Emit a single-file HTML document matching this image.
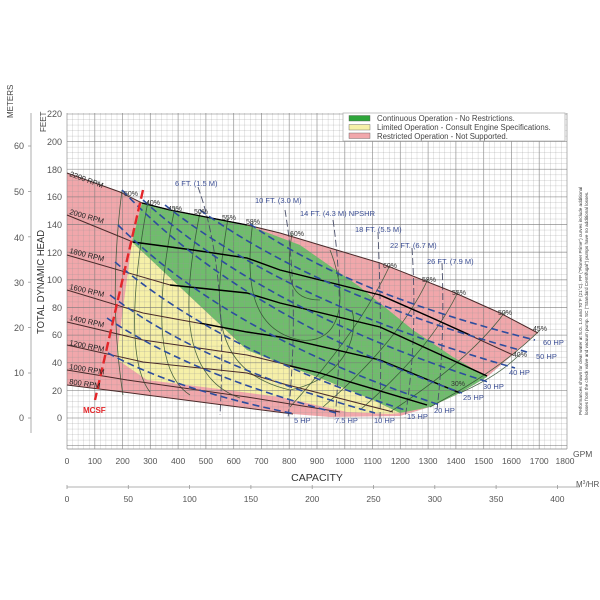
<!DOCTYPE html>
<html><head><meta charset="utf-8"><style>
html,body{margin:0;padding:0;background:#fff;}
svg{display:block;font-family:"Liberation Sans",sans-serif;}
</style></head><body>
<svg width="600" height="600" viewBox="0 0 600 600" xmlns="http://www.w3.org/2000/svg">
<rect width="600" height="600" fill="#fff"/>
<path d="M67,173 L120,192 L142,203 L170,210 L247,225 L280,233 L330,248 L380,263 L453,292 L500,313 L538,333 L487,377 L460,393 L430,407 L400,416 L330,417 L293,414 L123,392 L67,385 Z" fill="#f1a7ab"/>
<path d="M132,242 L247,350 L280,363 L320,378 L373,400 L400,413 L390,414 L347,412 L280,397 L227,390 L147,380 L118,360 L117,353 Z" fill="#f6f0a8"/>
<path d="M142,203 L170,210 L247,225 L300,245 L360,287 L413,330 L453,357 L487,377 L460,393 L430,407 L400,413 L373,400 L320,378 L280,363 L247,350 L132,242 Z" fill="#6fbd6c"/>
<g id="grid"></g>
<script>
(function(){
var ns="http://www.w3.org/2000/svg",g=document.getElementById('grid');
function ln(x1,y1,x2,y2,c,w){var l=document.createElementNS(ns,'line');l.setAttribute('x1',x1);l.setAttribute('y1',y1);l.setAttribute('x2',x2);l.setAttribute('y2',y2);l.setAttribute('stroke',c);l.setAttribute('stroke-width',w);g.appendChild(l);}
var px=500/1800;
for(var q=0;q<=1800;q+=20){var x=67+q*px;var maj=q%100==0;ln(x,113,x,449,maj?'rgba(120,120,120,0.7)':'rgba(150,150,150,0.45)',maj?0.8:0.5);}
var py=304/220;
for(var f=-20;f<=220;f+=4){var y=418-f*py;var maj=f%20==0;ln(67,y,567,y,maj?'rgba(120,120,120,0.7)':'rgba(150,150,150,0.45)',maj?0.8:0.5);}
ln(67,449,567,449,'#888',0.8);
})();
</script>
<g fill="none" stroke="#2f4f2f" stroke-width="0.8" opacity="0.85">
<path d="M122,190 Q108,300 123,395"/>
<path d="M148,201 C135,270 125,360 150,392"/>
<path d="M175,207 C160,280 150,370 190,395"/>
<path d="M200,212 C185,290 175,375 240,398"/>
<path d="M228,218 C215,300 205,370 290,390 C340,380 360,340 352,310"/>
<path d="M253,221 C245,280 250,330 300,340 C340,345 350,300 330,250"/>
<path d="M292,233 C285,280 290,300 320,300"/>
<path d="M290,407 Q360,330 390,265"/>
<path d="M323,407 Q400,340 428,279"/>
<path d="M360,410 Q430,350 458,292"/>
<path d="M390,412 Q470,360 505,312"/>
<path d="M430,407 Q500,370 540,330"/>
<path d="M460,393 Q500,375 520,354"/>
</g>
<g fill="none" stroke="#4a4f6a" stroke-width="0.9" stroke-dasharray="7,3">
<path d="M198,187 Q228,270 220,415"/>
<path d="M285,210 Q300,300 288,418"/>
<path d="M333,220 Q345,300 335,420"/>
<path d="M378,232 Q382,330 380,418"/>
<path d="M412,248 Q418,340 405,418"/>
<path d="M442,263 Q445,340 437,410"/>
</g>
<g fill="none" stroke="#4a2a2a" stroke-width="1">
<path d="M67,173 L120,192 L142,203 L170,210 L247,225 L280,233 L330,248 L380,263 L453,292 L500,313 L538,333"/>
<path d="M67,215 L133,242 L193,250 L247,258 L280,270 L380,295 L430,317 L513,355"/>
<path d="M67,255 L170,285 L247,293 L280,303 L380,327 L487,376"/>
<path d="M67,290 L143,313 L247,332 L280,337 L380,360 L460,393"/>
<path d="M67,322 L143,340 L247,355 L280,363 L320,373 L427,405"/>
<path d="M67,345 L143,362 L247,373 L280,383 L393,412"/>
<path d="M67,370 L127,380 L247,397 L340,412"/>
<path d="M67,385 L123,392 L293,414"/>
</g>
<g fill="none" stroke="#000" stroke-width="1.4">
<path d="M142,203 L170,210 L247,225"/>
<path d="M133,242 L193,250 L247,258 L280,270 L380,295 L430,317 L470,335"/>
<path d="M170,285 L247,293 L280,303 L380,327 L487,376"/>
<path d="M200,323 L247,332 L280,337 L380,360 L460,393"/>
<path d="M290,366 L320,373 L427,405"/>
</g>
<g fill="none" stroke="#2d4d9e" stroke-width="1.6" stroke-dasharray="7,4">
<path d="M108,353 Q173,389 295,414"/>
<path d="M107,318 Q189,374 340,414"/>
<path d="M110,295 Q203,366 375,413"/>
<path d="M115,262 Q221,352 405,410"/>
<path d="M118,225 Q230,336 440,405"/>
<path d="M122,190 Q239,314 462,393"/>
<path d="M143,200 Q264,311 488,382"/>
<path d="M165,205 Q290,304 515,368"/>
<path d="M200,210 Q320,296 527,352"/>
<path d="M250,224 Q350,294 535,340"/>
</g>
<line x1="143" y1="190" x2="95" y2="400" stroke="#e3262a" stroke-width="2.4" stroke-dasharray="9,4"/>
<text x="83" y="413" font-size="8" font-weight="bold" fill="#e3262a">MCSF</text>
<g font-size="7.5" fill="#222">
<text transform="translate(69,176) rotate(20)">2200 RPM</text>
<text transform="translate(69,214) rotate(16)">2000 RPM</text>
<text transform="translate(69,253) rotate(14)">1800 RPM</text>
<text transform="translate(69,289) rotate(13)">1600 RPM</text>
<text transform="translate(69,320) rotate(12)">1400 RPM</text>
<text transform="translate(69,345) rotate(11)">1200 RPM</text>
<text transform="translate(69,369) rotate(9)">1000 RPM</text>
<text transform="translate(69,384) rotate(8)">800 RPM</text>
</g>
<g font-size="7" fill="#333">
<text x="124" y="196">50%</text><text x="146" y="205">40%</text><text x="168" y="211">45%</text>
<text x="194" y="214">50%</text><text x="222" y="220">55%</text><text x="246" y="224">58%</text>
<text x="290" y="236">60%</text><text x="383" y="268">60%</text><text x="422" y="282">58%</text>
<text x="452" y="295">55%</text><text x="498" y="315">50%</text><text x="533" y="331">45%</text>
<text x="513" y="357">40%</text><text x="451" y="386">30%</text>
</g>
<g font-size="7.5" fill="#3c4f95">
<text x="175" y="186">6 FT. (1.5 M)</text>
<text x="255" y="203">10 FT. (3.0 M)</text>
<text x="300" y="216">14 FT. (4.3 M) NPSHR</text>
<text x="355" y="232">18 FT. (5.5 M)</text>
<text x="390" y="248">22 FT. (6.7 M)</text>
<text x="427" y="264">26 FT. (7.9 M)</text>
</g>
<g font-size="7.5" fill="#3c4f95">
<text x="294" y="423">5 HP</text><text x="335" y="423">7.5 HP</text><text x="374" y="423">10 HP</text>
<text x="407" y="419">15 HP</text><text x="434" y="413">20 HP</text><text x="463" y="400">25 HP</text>
<text x="483" y="389">30 HP</text><text x="509" y="375">40 HP</text><text x="536" y="359">50 HP</text>
<text x="543" y="345">60 HP</text>
</g>
<rect x="343" y="113" width="222" height="28" fill="#fff" stroke="#aaa" stroke-width="0.7"/>
<rect x="349" y="115.5" width="21" height="5.5" fill="#2ea53a" stroke="#555" stroke-width="0.4"/>
<rect x="349" y="124.5" width="21" height="5.5" fill="#f6f0a8" stroke="#555" stroke-width="0.4"/>
<rect x="349" y="133" width="21" height="5.5" fill="#f1a7ab" stroke="#555" stroke-width="0.4"/>
<g font-size="7.8" fill="#444">
<text x="377" y="121">Continuous Operation - No Restrictions.</text>
<text x="377" y="130">Limited Operation - Consult Engine Specifications.</text>
<text x="377" y="139">Restricted Operation - Not Supported.</text>
</g>
<g font-size="4.6" fill="#333">
<text transform="translate(582,415) rotate(-90)">Performances shown for clear water at S.G. 1.0 and 70°F (21°C). PP ("Pioneer Prime") curves include additional</text>
<text transform="translate(588,415) rotate(-90)">losses from the check valve and vacuum pump. SC ("Standard Centrifugal") pumps have no additional losses.</text>
</g>
<line x1="31" y1="113" x2="31" y2="433" stroke="#999" stroke-width="0.8"/>
<g font-size="9" fill="#555" text-anchor="end">
<text x="24" y="149">60</text><text x="24" y="195">50</text><text x="24" y="241">40</text>
<text x="24" y="286">30</text><text x="24" y="331">20</text><text x="24" y="376">10</text><text x="24" y="421">0</text>
<text x="62" y="117">220</text><text x="62" y="145">200</text><text x="62" y="173">180</text>
<text x="62" y="200">160</text><text x="62" y="228">140</text><text x="62" y="256">120</text>
<text x="62" y="283">100</text><text x="62" y="311">80</text><text x="62" y="338">60</text>
<text x="62" y="366">40</text><text x="62" y="394">20</text><text x="62" y="421">0</text>
</g>
<g stroke="#999" stroke-width="0.8">
<line x1="28" y1="146" x2="31" y2="146"/><line x1="28" y1="191.4" x2="31" y2="191.4"/><line x1="28" y1="236.8" x2="31" y2="236.8"/>
<line x1="28" y1="282.2" x2="31" y2="282.2"/><line x1="28" y1="327.6" x2="31" y2="327.6"/><line x1="28" y1="373" x2="31" y2="373"/><line x1="28" y1="418" x2="31" y2="418"/>
</g>
<text transform="translate(13,118) rotate(-90)" font-size="8" fill="#444">METERS</text>
<text transform="translate(46,132) rotate(-90)" font-size="8" fill="#444">FEET</text>
<text transform="translate(44,334) rotate(-90)" font-size="10.5" fill="#333" textLength="104" lengthAdjust="spacingAndGlyphs">TOTAL DYNAMIC HEAD</text>
<g font-size="8.5" fill="#555" text-anchor="middle">
<text x="67" y="464">0</text><text x="94.8" y="464">100</text><text x="122.6" y="464">200</text><text x="150.3" y="464">300</text>
<text x="178.1" y="464">400</text><text x="205.9" y="464">500</text><text x="233.7" y="464">600</text><text x="261.4" y="464">700</text>
<text x="289.2" y="464">800</text><text x="317" y="464">900</text><text x="344.8" y="464">1000</text><text x="372.6" y="464">1100</text>
<text x="400.3" y="464">1200</text><text x="428.1" y="464">1300</text><text x="455.9" y="464">1400</text><text x="483.7" y="464">1500</text>
<text x="511.4" y="464">1600</text><text x="539.2" y="464">1700</text><text x="565" y="464">1800</text>
</g>
<text x="573" y="457" font-size="8.5" fill="#555">GPM</text>
<text x="317" y="481" font-size="10.5" fill="#333" text-anchor="middle">CAPACITY</text>
<line x1="67" y1="487" x2="580" y2="487" stroke="#999" stroke-width="0.8"/>
<g stroke="#999" stroke-width="0.8">
<line x1="67" y1="485" x2="67" y2="489"/><line x1="128.3" y1="485" x2="128.3" y2="489"/><line x1="189.6" y1="485" x2="189.6" y2="489"/>
<line x1="250.9" y1="485" x2="250.9" y2="489"/><line x1="312.2" y1="485" x2="312.2" y2="489"/><line x1="373.5" y1="485" x2="373.5" y2="489"/>
<line x1="434.8" y1="485" x2="434.8" y2="489"/><line x1="496.1" y1="485" x2="496.1" y2="489"/><line x1="557.4" y1="485" x2="557.4" y2="489"/>
</g>
<g font-size="8.5" fill="#555" text-anchor="middle">
<text x="67" y="502">0</text><text x="128.3" y="502">50</text><text x="189.6" y="502">100</text><text x="250.9" y="502">150</text>
<text x="312.2" y="502">200</text><text x="373.5" y="502">250</text><text x="434.8" y="502">300</text><text x="496.1" y="502">350</text><text x="557.4" y="502">400</text>
</g>
<text x="576" y="487" font-size="8" fill="#555">M<tspan font-size="5" dy="-3">3</tspan><tspan dy="3">/HR</tspan></text>
</svg>
</body></html>
